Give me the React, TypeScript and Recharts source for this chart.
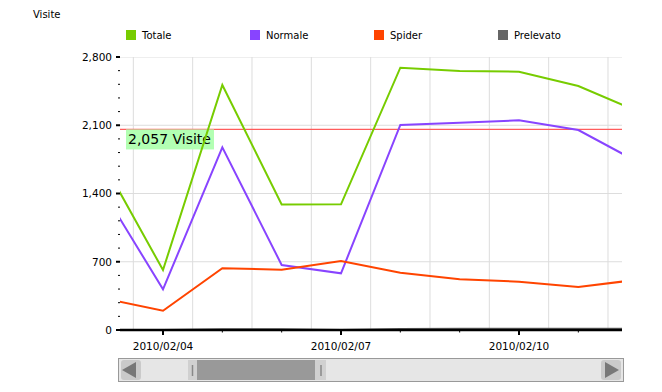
import React from 'react';
import { LineChart, Line, XAxis, YAxis, ReferenceLine } from 'recharts';

// day of February 2010
const days = [3, 4, 5, 6, 7, 8, 9, 10, 11, 12];
const totale = [1710, 615, 2513, 1287, 1289, 2690, 2656, 2649, 2503, 2243];
const normale = [1415, 417, 1874, 667, 581, 2103, 2126, 2151, 2051, 1724];
const spider = [326, 198, 633, 619, 708, 588, 520, 496, 441, 516];
const prelevato = [0, 0, 8, 8, 0, 10, 12, 12, 12, 12];

const xTicks = [4, 5, 6, 7, 8, 9, 10, 11];
const xMajor = [4, 7, 10];
const gridDays = [3.5, 4.5, 5.5, 6.5, 7.5, 8.5, 9.5, 10.5, 11.5];
const yTicks = [0, 140, 280, 420, 560, 700, 840, 980, 1120, 1260, 1400, 1540, 1680, 1820, 1960, 2100, 2240, 2380, 2520, 2660, 2800];
const yMajor = [0, 700, 1400, 2100, 2800];
const average = 2057;
const averageLabel = '2,057 Visite';
const title = 'Visite';

const series = [
  { key: 'totale', name: 'Totale', color: '#77cc00' },
  { key: 'normale', name: 'Normale', color: '#8844ff' },
  { key: 'spider', name: 'Spider', color: '#ff4400' },
  { key: 'prelevato', name: 'Prelevato', color: '#666666' },
];

const data = days.map((d, i) => ({
  day: d,
  totale: totale[i],
  normale: normale[i],
  spider: spider[i],
  prelevato: prelevato[i],
}));

const FONT = '"DejaVu Sans", Verdana, sans-serif';

const fmtDay = (d: number) => `2010/02/${String(d).padStart(2, '0')}`;
const fmtNum = (v: number) => v.toLocaleString('en-US');

const XTick = (props: any) => {
  const { x, y, payload } = props;
  const major = xMajor.includes(payload.value);
  return (
    <g>
      <line x1={x} x2={x} y1={y} y2={y + (major ? 5 : 2.5)} stroke="#000" strokeWidth={major ? 2 : 1} />
      {major && (
        <text x={x} y={y + 19.5} textAnchor="middle" fontSize={10.5} fontFamily={FONT} fill="#000">
          {fmtDay(payload.value)}
        </text>
      )}
    </g>
  );
};

const YTick = (props: any) => {
  const { x, y, payload } = props;
  const major = yMajor.includes(payload.value);
  return (
    <g>
      <line x1={x - (major ? 4 : 2)} x2={x} y1={y} y2={y} stroke="#000" strokeWidth={major ? 2 : 1} />
      {major && (
        <text x={x - 8} y={y + 3.8} textAnchor="end" fontSize={10.5} fontFamily={FONT} fill="#000">
          {fmtNum(payload.value)}
        </text>
      )}
    </g>
  );
};

const AvgLabel = (props: any) => {
  const vb = props.viewBox || {};
  const x = vb.x + 6;
  const y = vb.y;
  return (
    <g>
      <rect x={x} y={y} width={88} height={20} fill="#b3ffb3" />
      <text x={x + 2} y={y + 15} fontSize={14} fontFamily={FONT} fill="#000">
        {averageLabel}
      </text>
    </g>
  );
};

export default function App() {
  return (
    <div style={{ position: 'absolute', left: 0, top: 0, width: 662, height: 392, background: '#fff' }}>
      <div style={{ position: 'absolute', left: 0, top: 0 }}>
        <LineChart width={662} height={392} data={data} margin={{ top: 57, right: 40, bottom: 32, left: 60 }}>
          {yMajor.map((v) => (
            <ReferenceLine key={'h' + v} y={v} stroke="#dddddd" strokeWidth={1} ifOverflow="hidden" />
          ))}
          {gridDays.map((d) => (
            <ReferenceLine key={'v' + d} x={d} stroke="#dddddd" strokeWidth={1} ifOverflow="hidden" />
          ))}
          <XAxis
            dataKey="day"
            type="number"
            domain={[3.2753, 11.736]}
            allowDataOverflow
            ticks={xTicks}
            tick={<XTick />}
            tickLine={false}
            tickSize={0}
            tickMargin={0}
            height={30}
            axisLine={{ stroke: '#000', strokeWidth: 2.5 }}
            interval={0}
          />
          <YAxis
            type="number"
            domain={[0, 2800]}
            ticks={yTicks}
            tick={<YTick />}
            tickLine={false}
            tickSize={0}
            tickMargin={0}
            axisLine={false}
            width={60}
            interval={0}
            allowDataOverflow
          />
          <ReferenceLine y={average} stroke="#ff5c5c" strokeWidth={1.2} label={<AvgLabel />} />
          {series.map((s) => (
            <Line
              key={s.key}
              type="linear"
              dataKey={s.key}
              name={s.name}
              stroke={s.color}
              strokeWidth={2}
              dot={false}
              activeDot={false}
              isAnimationActive={false}
            />
          ))}
        </LineChart>
      </div>
      <svg width={662} height={392} style={{ position: 'absolute', left: 0, top: 0, pointerEvents: 'none' }}>
        <text x={33} y={18} fontSize={10} fontFamily={FONT} fill="#000">{title}</text>
        {series.map((s, i) => (
          <g key={s.key}>
            <rect x={126 + i * 124} y={30} width={10} height={10} fill={s.color} />
            <text x={142 + i * 124} y={39} fontSize={10} fontFamily={FONT} fill="#000">{s.name}</text>
          </g>
        ))}
        {/* scrollbar */}
        <rect x={118.5} y={358.5} width={505} height={23} fill="#e6e6e6" stroke="#999" strokeWidth={1} />
        <rect x={121} y={360} width={20} height={20} rx={3} fill="#cacaca" />
        <polygon points="122,370 136,362 136,378" fill="#787878" />
        <rect x={601} y={360} width={20} height={20} rx={3} fill="#cacaca" />
        <polygon points="619,370 605,362 605,378" fill="#787878" />
        <rect x={188} y={360} width={9} height={20} fill="#d0d0d0" />
        <line x1={192.5} x2={192.5} y1={365} y2={376} stroke="#888" strokeWidth={1.5} />
        <rect x={197} y={360} width={118} height={20} fill="#999999" />
        <rect x={315} y={360} width={11} height={20} fill="#d0d0d0" />
        <line x1={321} x2={321} y1={365} y2={376} stroke="#888" strokeWidth={1.5} />
      </svg>
    </div>
  );
}
